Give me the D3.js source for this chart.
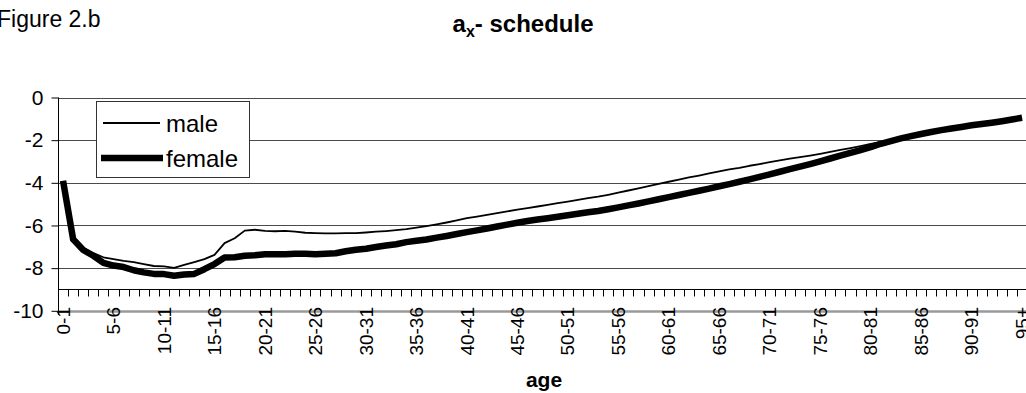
<!DOCTYPE html>
<html>
<head>
<meta charset="utf-8">
<script src="https://cdn.jsdelivr.net/npm/d3@7"></script>
<style>
  body { margin: 0; background: #fff; }
  svg { display: block; font-family: "Liberation Sans", Arial, sans-serif; }
</style>
</head>
<body>
<svg id="chart" width="1026" height="393"></svg>
<script>
// age groups 0-1 ... 94-95, 95+
var ages = d3.range(0, 95).map(function(a) { return a + "-" + (a + 1); }).concat(["95+"]);

var maleValues = [
  -3.95, -6.60, -7.05, -7.30, -7.49, -7.58, -7.66, -7.72, -7.81, -7.90,
  -7.92, -7.99, -7.85, -7.72, -7.58, -7.38, -6.83, -6.60, -6.24, -6.20,
  -6.25, -6.27, -6.25, -6.29, -6.34, -6.36, -6.37, -6.37, -6.36, -6.36,
  -6.33, -6.29, -6.26, -6.22, -6.17, -6.10, -6.03, -5.95, -5.86, -5.76,
  -5.66, -5.58, -5.50, -5.42, -5.34, -5.26, -5.19, -5.11, -5.03, -4.95,
  -4.88, -4.80, -4.72, -4.65, -4.56, -4.46, -4.36, -4.26, -4.16, -4.05,
  -3.95, -3.85, -3.75, -3.66, -3.56, -3.46, -3.37, -3.30, -3.20, -3.12,
  -3.03, -2.95, -2.87, -2.80, -2.72, -2.64, -2.55, -2.46, -2.37, -2.28,
  -2.18, -2.09, -2.00, -1.92, -1.84, -1.76, -1.68, -1.59, -1.51, -1.43,
  -1.36, -1.28, -1.20, -1.12, -1.04, -0.95
];

var femaleValues = [
  -3.90, -6.65, -7.15, -7.42, -7.75, -7.88, -7.95, -8.10, -8.20, -8.27,
  -8.28, -8.36, -8.30, -8.27, -8.05, -7.81, -7.50, -7.49, -7.42, -7.40,
  -7.35, -7.35, -7.35, -7.33, -7.33, -7.35, -7.33, -7.30, -7.21, -7.14,
  -7.09, -7.01, -6.94, -6.88, -6.78, -6.72, -6.66, -6.57, -6.49, -6.40,
  -6.31, -6.23, -6.14, -6.05, -5.96, -5.87, -5.79, -5.72, -5.66, -5.59,
  -5.52, -5.45, -5.38, -5.32, -5.24, -5.15, -5.06, -4.97, -4.87, -4.77,
  -4.67, -4.57, -4.47, -4.37, -4.27, -4.16, -4.06, -3.95, -3.84, -3.72,
  -3.60, -3.48, -3.36, -3.24, -3.12, -2.99, -2.86, -2.73, -2.60, -2.47,
  -2.33, -2.17, -2.04, -1.92, -1.81, -1.71, -1.62, -1.53, -1.45, -1.38,
  -1.30, -1.24, -1.18, -1.11, -1.03, -0.95
];

var yTicks = [0, -2, -4, -6, -8, -10];
var seriesNames = ["male", "female"];

var svg = d3.select("#chart");

var plotLeft = 58, plotTop = 97.5, plotBottom = 310.8;
var band = 10.095;

var x = d3.scaleBand().domain(ages).range([plotLeft, plotLeft + band * ages.length]);
var y = d3.scaleLinear().domain([-10, 0]).range([plotBottom, plotTop]);

// gridlines
svg.append("g").selectAll("line")
  .data(yTicks)
  .enter().append("line")
  .attr("x1", plotLeft).attr("x2", 1026)
  .attr("y1", function(d) { return Math.round(y(d)) + 0.5; })
  .attr("y2", function(d) { return Math.round(y(d)) + 0.5; })
  .style("stroke", function(d) { return d === -10 ? "#9a9a9a" : "#4a4a4a"; })
  .style("stroke-width", function(d) { return d === -10 ? 2.5 : 1; });

// category axis crosses at -9
var yAxisCross = Math.round(y(-9)) + 0.5;
svg.append("line")
  .attr("x1", plotLeft).attr("x2", 1026)
  .attr("y1", yAxisCross).attr("y2", yAxisCross)
  .style("stroke", "#000").style("stroke-width", 1);

svg.append("g").selectAll("line")
  .data(ages)
  .enter().append("line")
  .attr("x1", function(d) { return Math.round(x(d) + x.bandwidth()) + 0.5; })
  .attr("x2", function(d) { return Math.round(x(d) + x.bandwidth()) + 0.5; })
  .attr("y1", yAxisCross).attr("y2", yAxisCross + 7)
  .style("stroke", "#000").style("stroke-width", 1);

// category labels every 5th
svg.append("g").selectAll("text")
  .data(ages.filter(function(d, i) { return i % 5 === 0; }))
  .enter().append("text")
  .attr("transform", function(d) {
    return "translate(" + (x(d) + x.bandwidth() / 2) + "," + 307 + ") rotate(-90)";
  })
  .attr("dy", "0.35em")
  .attr("text-anchor", "end")
  .style("font-size", "19px")
  .text(function(d) { return d; });

// value axis
var yAxis = d3.axisLeft(y).tickValues(yTicks).tickSize(7).tickPadding(8)
  .tickFormat(function(d) { return d === 0 ? "0" : "-" + Math.abs(d); });
var yg = svg.append("g").attr("transform", "translate(" + (plotLeft + 0.5) + ",0)").call(yAxis);
yg.select(".domain").attr("d", "M0," + plotTop + "V" + (plotBottom + 4)).style("stroke", "#000");
yg.selectAll(".tick line").style("stroke", "#000");
yg.selectAll("text").style("font-size", "21px").style("font-family", "Liberation Sans, Arial, sans-serif").style("fill", "#000");

// series lines
var line = d3.line()
  .x(function(d, i) { return x(ages[i]) + x.bandwidth() / 2; })
  .y(function(d) { return y(d); });

svg.append("path").datum(femaleValues)
  .attr("d", line)
  .style("fill", "none").style("stroke", "#000").style("stroke-width", 6.5)
  .style("stroke-linejoin", "round");

svg.append("path").datum(maleValues)
  .attr("d", line)
  .style("fill", "none").style("stroke", "#000").style("stroke-width", 1.8)
  .style("stroke-linejoin", "round");

// legend
var legend = svg.append("g");
legend.append("rect")
  .attr("x", 96.5).attr("y", 101.5).attr("width", 153).attr("height", 76)
  .style("fill", "#fff").style("stroke", "#333").style("stroke-width", 1);
var legendWidths = [1.8, 6.5];
seriesNames.forEach(function(name, i) {
  var ly = 123 + i * 35;
  legend.append("line")
    .attr("x1", i === 0 ? 103 : 101).attr("x2", i === 0 ? 160 : 163)
    .attr("y1", ly).attr("y2", ly)
    .style("stroke", "#000").style("stroke-width", legendWidths[i]);
  legend.append("text")
    .attr("x", 166).attr("y", ly + 8.5)
    .style("font-size", "24px")
    .text(name);
});

// titles
svg.append("text")
  .attr("x", -3).attr("y", 27)
  .style("font-size", "23px")
  .text("Figure 2.b");

var title = svg.append("text")
  .attr("x", 523).attr("y", 32)
  .attr("text-anchor", "middle")
  .style("font-size", "24px").style("font-weight", "bold");
title.append("tspan").text("a");
title.append("tspan").attr("dy", 5).style("font-size", "16px").text("x");
title.append("tspan").attr("dy", -5).text("- schedule");

svg.append("text")
  .attr("x", 544).attr("y", 387)
  .attr("text-anchor", "middle")
  .style("font-size", "21px").style("font-weight", "bold")
  .text("age");
</script>
</body>
</html>
